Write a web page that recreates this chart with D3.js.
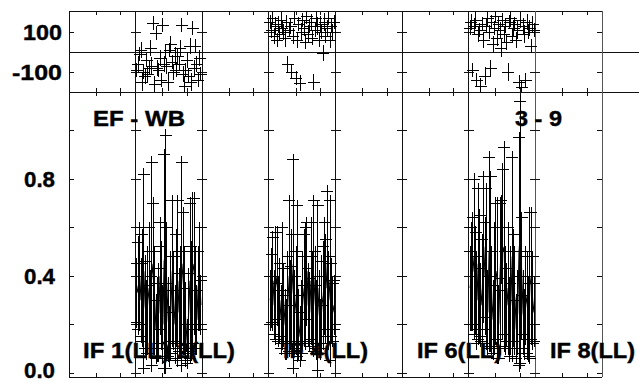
<!DOCTYPE html>
<html><head><meta charset="utf-8">
<script src="https://cdn.jsdelivr.net/npm/d3@7"></script>
<style>
body{margin:0;background:#fff}
svg{display:block}
text{font-family:Arial,"Liberation Sans",Helvetica,sans-serif;font-weight:bold;fill:#000;stroke:#000;stroke-width:0.4}
line{shape-rendering:crispEdges}
</style>
</head><body><svg id="c" width="639" height="383"></svg>
<script>
// ---------- data ----------
const panelCount = 8;
const channels = d3.range(1, 49);
const xTickChannels = [20, 38];
const phaseTicks = [-100, 100];
const phaseTickLabels = ["-100", "100"];
const ampTicks = [0, 0.2, 0.4, 0.6, 0.8, 1.0];
const ampLabelTicks = [0, 0.4, 0.8];
const ampTickLabels = ["0.0", "0.4", "0.8"];
const ifLabels = ["IF 1(LL)", "2(LL)", "IF 4(LL)", "IF 6(LL)", "IF 8(LL)"];
const baselineLabels = ["EF - WB", "3 - 9"];
const dataPanels = [1, 3, 6];

// panel 2
const ampP2 = [0.33,0.36,0.40,0.30,0.35,0.42,0.28,0.22,0.30,0.35,0.25,0.45,0.40,0.30,0.18,0.22,0.25,0.40,0.32,0.20,0.46,0.50,0.35,0.22,0.15,0.28,0.42,0.30,0.20,0.35,0.38,0.25,0.30,0.45,0.38,0.30,0.20,0.12,0.25,0.38,0.30,0.42,0.45,0.30,0.22,0.35,0.40,0.28];
const ampErrP2 = [0.12,0.18,0.20,0.15,0.22,0.40,0.18,0.14,0.20,0.25,0.15,0.42,0.30,0.20,0.12,0.15,0.18,0.22,0.20,0.14,0.44,0.48,0.25,0.15,0.10,0.20,0.29,0.18,0.14,0.22,0.33,0.16,0.20,0.42,0.28,0.20,0.15,0.08,0.16,0.32,0.22,0.30,0.27,0.20,0.12,0.15,0.20,0.10];
const phP2 = [-90,-60,-10,10,-150,-100,-120,-40,-110,-80,20,-70,145,-160,95,-80,-90,-30,-140,135,-60,0,-70,-150,10,40,-50,-100,-20,-90,-20,-60,20,135,-110,-170,-90,-40,-120,30,-150,120,-80,30,-60,-140,-30,-110];
const phErrP2 = [35,40,35,40,45,35,40,35,40,35,40,45,35,40,35,40,35,40,35,35,40,35,40,45,35,40,35,40,45,35,40,35,40,35,40,45,35,40,35,40,45,35,40,35,40,35,40,35];
// panel 4
const ampP4 = [0.30,0.35,0.38,0.28,0.36,0.40,0.25,0.30,0.22,0.36,0.28,0.20,0.18,0.30,0.40,0.28,0.35,0.45,0.25,0.30,0.38,0.20,0.15,0.22,0.30,0.35,0.36,0.42,0.28,0.25,0.38,0.30,0.40,0.30,0.22,0.35,0.25,0.18,0.28,0.32,0.40,0.35,0.45,0.30,0.38,0.30,0.25,0.28];
const ampErrP4 = [0.10,0.14,0.18,0.12,0.22,0.18,0.12,0.15,0.12,0.24,0.15,0.12,0.10,0.18,0.31,0.16,0.22,0.43,0.15,0.20,0.31,0.12,0.10,0.14,0.18,0.22,0.24,0.20,0.15,0.14,0.24,0.18,0.31,0.20,0.14,0.34,0.15,0.10,0.18,0.20,0.22,0.20,0.30,0.18,0.33,0.15,0.12,0.10];
const phP4 = [150,110,170,80,130,60,140,90,160,120,100,70,150,-60,110,130,-100,80,170,-130,60,140,-155,100,160,120,50,180,90,130,150,70,-150,110,170,130,60,140,100,-5,150,80,120,170,60,130,100,150];
const phErrP4 = [35,40,35,40,45,35,40,35,40,35,40,45,35,40,35,40,35,40,35,35,40,35,40,45,35,40,35,40,45,35,40,35,40,35,40,45,35,40,35,40,45,35,40,35,40,35,40,35];
// panel 7
const ampP7 = [0.35,0.40,0.42,0.48,0.38,0.30,0.45,0.40,0.28,0.35,0.52,0.40,0.44,0.25,0.50,0.46,0.30,0.22,0.35,0.42,0.38,0.20,0.40,0.55,0.50,0.52,0.30,0.28,0.35,0.22,0.30,0.48,0.35,0.30,0.18,0.25,0.50,0.58,0.40,0.25,0.20,0.32,0.28,0.22,0.36,0.40,0.30,0.25];
const ampErrP7 = [0.15,0.20,0.22,0.32,0.20,0.18,0.31,0.25,0.15,0.20,0.29,0.22,0.32,0.15,0.39,0.35,0.20,0.14,0.25,0.28,0.32,0.14,0.30,0.16,0.34,0.41,0.20,0.15,0.25,0.15,0.20,0.41,0.22,0.20,0.12,0.15,0.47,0.54,0.24,0.15,0.12,0.18,0.20,0.15,0.30,0.26,0.18,0.12];
const phP7 = [120,150,-90,130,160,-140,90,110,-170,140,60,-120,130,170,100,-80,150,40,120,180,70,140,110,20,160,90,130,50,-100,150,170,80,120,140,60,110,-150,160,-175,130,90,-140,150,100,120,30,140,110];
const phErrP7 = [35,40,35,40,45,35,40,35,40,35,40,45,35,40,35,40,35,40,35,35,40,35,40,45,35,40,35,40,45,35,40,35,40,35,40,45,35,40,35,40,45,35,40,35,40,35,40,35];

const ampSeries = [ampP2, ampP4, ampP7];
const ampErrSeries = [ampErrP2, ampErrP4, ampErrP7];
const phSeries = [phP2, phP4, phP7];
const phErrSeries = [phErrP2, phErrP4, phErrP7];

// ---------- layout ----------
const svg = d3.select("#c");
const X0 = 69, X1 = 602, XR = 639;
const yTop = 11, yMid = 92, yBot = 377;
const panelX = d3.scaleLinear().domain([0, panelCount]).range([X0, X1]);
const yP = d3.scaleLinear().domain([-200, 200]).range([92, 12]);
const yA = d3.scaleLinear().domain([0, 0.8]).range([373, 179]);
const chX = i => d3.scaleLinear().domain([0, 49]).range([panelX(i), panelX(i + 1)]);
const ink = "#111";

const g = svg.append("g");
const defs = svg.append("defs");
defs.append("clipPath").attr("id","clipP").append("rect").attr("x",X0).attr("y",yTop).attr("width",XR-X0).attr("height",yMid-yTop);

// frame lines
g.append("line").attr("x1",X0).attr("x2",X1).attr("y1",yTop).attr("y2",yTop).attr("stroke",ink);
g.append("line").attr("x1",X0).attr("x2",XR).attr("y1",yP(0)).attr("y2",yP(0)).attr("stroke",ink);
g.append("line").attr("x1",X0).attr("x2",XR).attr("y1",yMid).attr("y2",yMid).attr("stroke",ink);
g.append("line").attr("x1",X0).attr("x2",X1).attr("y1",yBot).attr("y2",yBot).attr("stroke",ink);
d3.range(0, panelCount + 1).forEach(i => {
  g.append("line").attr("x1",panelX(i)).attr("x2",panelX(i)).attr("y1",yTop).attr("y2",yBot)
    .attr("stroke", i >= 7 ? "#555" : ink);
});

// y ticks on dividers
d3.range(0, panelCount + 1).forEach(i => {
  const x = panelX(i);
  const l = i === 0 ? 0 : 5, r = i === panelCount ? 0 : 5;
  phaseTicks.forEach(t => g.append("line").attr("x1",x-l).attr("x2",x+r).attr("y1",yP(t)).attr("y2",yP(t)).attr("stroke",ink));
  ampTicks.forEach(t => g.append("line").attr("x1",x-l).attr("x2",x+r).attr("y1",yA(t)).attr("y2",yA(t)).attr("stroke",ink));
});
// x ticks
d3.range(0, panelCount).forEach(i => {
  const sx = chX(i);
  xTickChannels.forEach(c => {
    const x = sx(c);
    g.append("line").attr("x1",x).attr("x2",x).attr("y1",yTop).attr("y2",yTop+4).attr("stroke",ink);
    g.append("line").attr("x1",x).attr("x2",x).attr("y1",yMid-4).attr("y2",yMid+4).attr("stroke",ink);
    g.append("line").attr("x1",x).attr("x2",x).attr("y1",yBot-4).attr("y2",yBot).attr("stroke",ink);
  });
});

// labels
function lbl(t, x, y, len, anchor) {
  const el = g.append("text").attr("x", x).attr("y", y).attr("font-size", 22).text(t)
    .attr("textLength", len).attr("lengthAdjust", "spacingAndGlyphs");
  if (anchor) el.attr("text-anchor", anchor);
  return el;
}
lbl(phaseTickLabels[1], 62, yP(100) + 7.5, 39, "end");
lbl(phaseTickLabels[0], 62, yP(-100) + 7.5, 50, "end");
ampLabelTicks.forEach((t, k) => lbl(ampTickLabels[k], 55, Math.min(yA(t) + 8, 378), 31, "end"));
lbl(baselineLabels[0], 93, 126, 92);
lbl(baselineLabels[1], 515, 126, 47);
const ifLabelX = [83, 177, 283, 417, 550];
const ifLabelLen = [87, 58, 85, 85, 85];
ifLabels.forEach((t, k) => lbl(t, ifLabelX[k], 358, ifLabelLen[k]));

// data
const dg = svg.append("g").attr("stroke", "#000").attr("stroke-width", 1);
dataPanels.forEach((pi, s) => {
  const sx = chX(pi);
  const amp = ampSeries[s], ae = ampErrSeries[s], ph = phSeries[s], pe = phErrSeries[s];
  dg.append("path").attr("fill","none").attr("stroke-width",1.1)
    .attr("d", d3.line().x((d,i) => sx(channels[i])).y(d => yA(d))(amp));
  channels.forEach((c, i) => {
    const x = sx(c);
    const hi = yA(amp[i] + ae[i]), lo = yA(amp[i] - ae[i]);
    dg.append("line").attr("x1",x).attr("x2",x).attr("y1",hi-6).attr("y2",lo+6);
    dg.append("line").attr("x1",x-6).attr("x2",x+6).attr("y1",hi).attr("y2",hi);
    dg.append("line").attr("x1",x-6).attr("x2",x+6).attr("y1",lo).attr("y2",lo);
  });
  const pg = dg.append("g").attr("clip-path","url(#clipP)");
  channels.forEach((c, i) => {
    const x = sx(c), y = yP(ph[i]);
    pg.append("line").attr("x1",x).attr("x2",x).attr("y1",yP(ph[i]+pe[i])).attr("y2",yP(ph[i]-pe[i]));
    pg.append("line").attr("x1",x-6).attr("x2",x+6).attr("y1",y).attr("y2",y);
  });
});
</script>
</body></html>
